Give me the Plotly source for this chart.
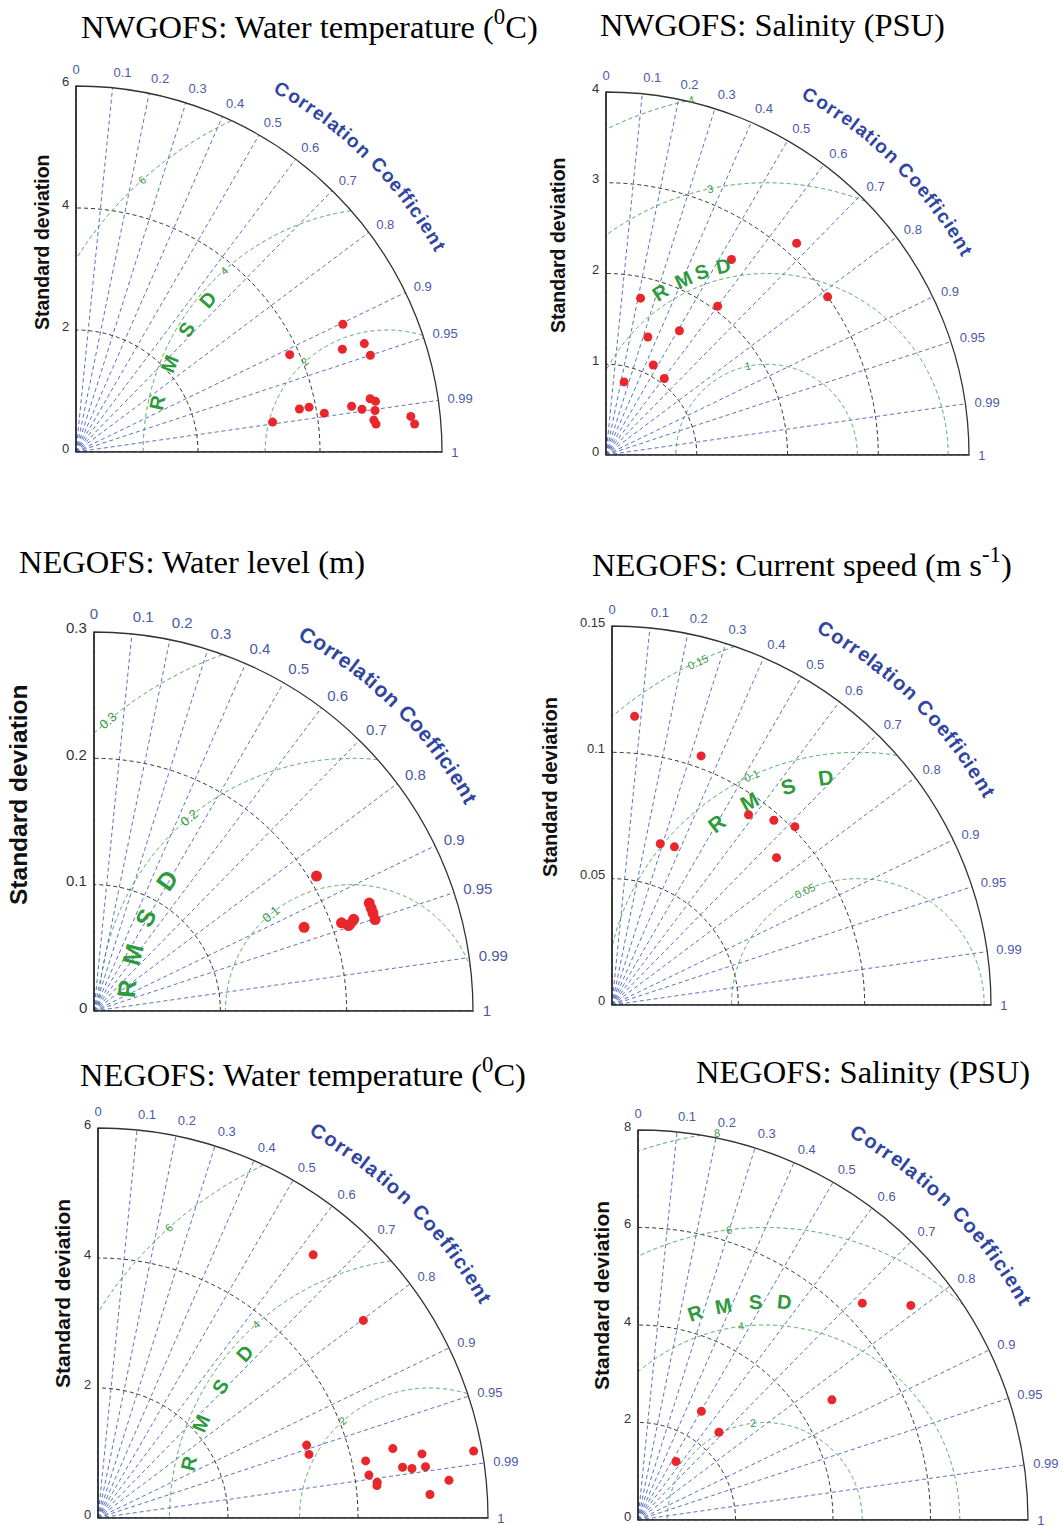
import numpy as np
import plotly.graph_objects as go

W, H = 1062, 1526

# ---------------- data ----------------
corr_ticks = [0, 0.1, 0.2, 0.3, 0.4, 0.5, 0.6, 0.7, 0.8, 0.9, 0.95, 0.99, 1]
corr_tick_text = ["0", "0.1", "0.2", "0.3", "0.4", "0.5", "0.6", "0.7", "0.8", "0.9", "0.95", "0.99", "1"]

titles = [
    "NWGOFS: Water temperature (<sup>0</sup>C)",
    "NWGOFS: Salinity (PSU)",
    "NEGOFS: Water level (m)",
    "NEGOFS: Current speed (m s<sup>-1</sup>)",
    "NEGOFS: Water temperature (<sup>0</sup>C)",
    "NEGOFS: Salinity (PSU)",
]

# NWGOFS water temperature
nwt_std = [4.85, 5.05, 4.68, 5.08, 3.85, 4.90, 4.98, 4.58, 4.74, 4.95, 3.89, 3.73, 4.12, 4.91, 4.94, 3.26, 5.52, 5.57]
nwt_corr = [0.902, 0.936, 0.933, 0.950, 0.910, 0.984, 0.986, 0.9865, 0.989, 0.9905, 0.982, 0.982, 0.988, 0.9943, 0.9957, 0.9886, 0.9944, 0.9966]
# NWGOFS salinity
nws_std = [1.77, 2.56, 3.14, 3.00, 2.05, 1.59, 1.38, 1.12, 1.06, 0.83]
nws_corr = [0.215, 0.540, 0.669, 0.814, 0.600, 0.509, 0.334, 0.465, 0.606, 0.240]
# NEGOFS water level
nel_std = [0.206, 0.179, 0.208, 0.2125, 0.218, 0.214, 0.234, 0.234, 0.234, 0.234]
nel_corr = [0.855, 0.929, 0.942, 0.948, 0.943, 0.947, 0.931, 0.9375, 0.9436, 0.951]
# NEGOFS current speed
nec_std = [0.1146, 0.1047, 0.0927, 0.0972, 0.1011, 0.0666, 0.0673, 0.0874]
nec_corr = [0.078, 0.337, 0.583, 0.659, 0.716, 0.287, 0.367, 0.745]
# NEGOFS water temperature
net_std = [5.23, 5.09, 3.40, 3.39, 4.21, 4.22, 4.33, 4.32, 4.66, 4.75, 4.89, 5.08, 5.10, 5.43, 5.12, 5.87]
net_corr = [0.633, 0.802, 0.944, 0.9575, 0.978, 0.9877, 0.9919, 0.9933, 0.9734, 0.9864, 0.9878, 0.981, 0.988, 0.9943, 0.9975, 0.9845]
# NEGOFS salinity
nes_std = [6.40, 7.12, 4.68, 2.58, 2.45, 1.43]
nes_corr = [0.719, 0.786, 0.850, 0.504, 0.678, 0.545]

# reference (observed) std and RMSD contour levels
ref_std = [5.1, 1.77, 0.204, 0.0973, 5.1, 2.6]
rmsd_levels = [[2, 4, 6], [1, 2, 3, 4], [0.1, 0.2, 0.3], [0.05, 0.1, 0.15], [2, 4, 6], [2, 4, 6, 8]]
rmsd_label_levels = [[2, 4, 6], [1, 3, 4], [0.1, 0.2, 0.3], [0.05, 0.1, 0.15], [2, 4, 6], [2, 4, 6, 8]]
rmsd_label_text = [["2", "4", "6"], ["1", "3", "4"], ["0.1", "0.2", "0.3"], ["0.05", "0.1", "0.15"],
                   ["2", "4", "6"], ["2", "4", "6", "8"]]
std_ticks = [[0, 2, 4, 6], [0, 1, 2, 3, 4], [0, 0.1, 0.2, 0.3], [0, 0.05, 0.1, 0.15], [0, 2, 4, 6], [0, 2, 4, 6, 8]]
std_tick_text = [["0", "2", "4", "6"], ["0", "1", "2", "3", "4"], ["0", "0.1", "0.2", "0.3"],
                 ["0", "0.05", "0.1", "0.15"], ["0", "2", "4", "6"], ["0", "2", "4", "6", "8"]]

series_std = [nwt_std, nws_std, nel_std, nec_std, net_std, nes_std]
series_corr = [nwt_corr, nws_corr, nel_corr, nec_corr, net_corr, nes_corr]

# ---------------- layout geometry (pixels) ----------------
panels = [
    dict(ox=76, oy=452, R=366, title=(309, 25), ylab=(42, 242, 19.5), tick=12, cc=19, rm_r=3.85,
         rm_phi=[167.8, 157.9, 148.5, 139.8], rm_fs=20, lab_phi=132, msize=9),
    dict(ox=606, oy=455, R=363, title=(772, 25), ylab=(558, 245, 19.5), tick=12, cc=19, rm_r=2.14,
         rm_phi=[123, 115.4, 109.5, 102.9], rm_fs=20, lab_phi=102, msize=9),
    dict(ox=94, oy=1011, R=379, title=(192, 562), ylab=(18, 795, 24.5), tick=14, cc=21, rm_r=0.179,
         rm_phi=[174.4, 165.4, 155.5, 144.7], rm_fs=25, lab_phi=130, msize=11),
    dict(ox=612, oy=1005, R=379, title=(802, 562), ylab=(550, 787, 20), tick=12, cc=20, rm_r=0.091,
         rm_phi=[127.9, 118, 107.8, 98], rm_fs=21, lab_phi=115, msize=9),
    dict(ox=98, oy=1518, R=390, title=(303, 1072), ylab=(62, 1294, 21), tick=12, cc=20, rm_r=3.8,
         rm_phi=[167.1, 157.5, 148, 138.5], rm_fs=20, lab_phi=132, msize=9),
    dict(ox=638, oy=1520, R=390, title=(863, 1072), ylab=(601, 1296, 21), tick=12, cc=20, rm_r=4.48,
         rm_phi=[108.6, 100.9, 92.5, 84.9], rm_fs=20, lab_phi=97, msize=9),
]

BLUE_GRID = "#5a72c4"
BLUE_TXT = "#4a5aa8"
BLUE_CC = "#2f45a0"
GREEN = "#3c9a4a"
RED = "#e8262b"

cw = {"C": .722, "o": .611, "r": .389, "e": .556, "l": .278, "a": .556, "t": .333, "i": .278,
      "n": .611, " ": .278, "f": .333, "c": .556}

fig = go.Figure()
annotations = []
theta_ticks = list(np.degrees(np.arccos(corr_ticks)))


def to_paper(px, py):
    return px / W, 1 - py / H


for i, p in enumerate(panels):
    sub = "polar" if i == 0 else f"polar{i + 1}"
    smax = std_ticks[i][-1]
    s0 = ref_std[i]
    ox, oy, R = p["ox"], p["oy"], p["R"]

    def std_to_px(xs, ys):
        return ox + R * xs / smax, oy - R * ys / smax

    # RMSD arcs
    for lev in rmsd_levels[i]:
        t = np.linspace(0, np.pi, 1441)
        x = s0 + lev * np.cos(t)
        y = lev * np.sin(t)
        r = np.hypot(x, y)
        m = (r <= smax) & (x >= 0)
        fig.add_trace(go.Scatterpolar(r=r[m], theta=np.degrees(np.arctan2(y[m], x[m])), mode="lines",
                                      line=dict(color=GREEN, width=1, dash="4px,3px"),
                                      subplot=sub, hoverinfo="skip", showlegend=False))
    # bottom edge (corr = 1 axis)
    fig.add_trace(go.Scatterpolar(r=[0, smax], theta=[0, 0], mode="lines",
                                  line=dict(color="#333", width=1.3), subplot=sub,
                                  hoverinfo="skip", showlegend=False))
    # data points
    fig.add_trace(go.Scatterpolar(r=series_std[i], theta=np.degrees(np.arccos(series_corr[i])),
                                  mode="markers", marker=dict(color=RED, size=p["msize"]),
                                  subplot=sub, showlegend=False))

    dom_x = [ox / W, (ox + R) / W]
    dom_y = [(H - oy) / H, (H - oy + R) / H]
    fig.update_layout(**{sub: dict(
        domain=dict(x=dom_x, y=dom_y),
        sector=[0, 90],
        bgcolor="white",
        angularaxis=dict(direction="counterclockwise", rotation=0, tickmode="array",
                         tickvals=theta_ticks, ticktext=corr_tick_text,
                         showline=True, linecolor="#333", linewidth=1.3,
                         showgrid=True, gridcolor=BLUE_GRID, griddash="4px,3px", gridwidth=1,
                         ticks="outside", ticklen=6, tickcolor="rgba(0,0,0,0)",
                         tickfont=dict(color=BLUE_TXT, size=p["tick"] + 1, family="Liberation Sans")),
        radialaxis=dict(range=[0, smax], angle=90, tickmode="array",
                        tickvals=std_ticks[i], showticklabels=False,
                        showline=True, linecolor="#222", linewidth=1.3,
                        showgrid=True, gridcolor="#333", griddash="4px,3px", gridwidth=1,
                        ticks=""),
    )})

    # radial (std) tick labels on the left of the vertical axis
    for v, lab in zip(std_ticks[i], std_tick_text[i]):
        px, py = std_to_px(0, v)
        ax_, ay_ = to_paper(px - 5, py - 4)
        annotations.append(dict(text=lab, x=ax_, y=ay_, xref="paper", yref="paper", showarrow=False,
                                xanchor="right", yanchor="middle",
                                font=dict(family="Liberation Sans", size=p["tick"] + 1, color="#333")))

    # title
    tx, ty = to_paper(*p["title"])
    annotations.append(dict(text=titles[i], x=tx, y=ty, xref="paper", yref="paper", showarrow=False,
                            xanchor="center", yanchor="middle",
                            font=dict(family="Liberation Serif", size=32.5, color="black")))
    # y label
    lx, ly = to_paper(p["ylab"][0], p["ylab"][1])
    annotations.append(dict(text="Standard deviation", x=lx, y=ly, xref="paper", yref="paper",
                            showarrow=False, textangle=-90, xanchor="center", yanchor="middle",
                            font=dict(family="Liberation Sans", size=p["ylab"][2], color="#111",
                                      weight="bold")))
    # Correlation Coefficient along arc
    text = "Correlation Coefficient"
    fs = p["cc"]
    widths = [cw[c] * fs for c in text]
    r_px = 1.14 * R
    a0, a1 = 61.5, 29.0
    scale = np.radians(a0 - a1) * r_px / sum(widths)
    cum = 0
    for c, w in zip(text, widths):
        if c != " ":
            center = cum + w * scale / 2
            phi = a0 - np.degrees(center / r_px)
            px = ox + r_px * np.cos(np.radians(phi))
            py = oy - r_px * np.sin(np.radians(phi))
            ax_, ay_ = to_paper(px, py)
            annotations.append(dict(text=c, x=ax_, y=ay_, xref="paper", yref="paper", showarrow=False,
                                    textangle=90 - phi, xanchor="center", yanchor="middle",
                                    font=dict(family="Liberation Sans", size=fs, color=BLUE_CC,
                                              weight="bold")))
        cum += w * scale
    # RMSD letters
    for c, phi in zip("RMSD", p["rm_phi"]):
        xs = s0 + p["rm_r"] * np.cos(np.radians(phi))
        ys = p["rm_r"] * np.sin(np.radians(phi))
        ax_, ay_ = to_paper(*std_to_px(xs, ys))
        annotations.append(dict(text=c, x=ax_, y=ay_, xref="paper", yref="paper", showarrow=False,
                                textangle=90 - phi, xanchor="center", yanchor="middle",
                                font=dict(family="Liberation Sans", size=p["rm_fs"], color="#2e9a3e",
                                          weight="bold")))
    # RMSD level labels
    for lev, lab in zip(rmsd_label_levels[i], rmsd_label_text[i]):
        phi = p["lab_phi"]
        xs = s0 + lev * np.cos(np.radians(phi))
        ys = lev * np.sin(np.radians(phi))
        ax_, ay_ = to_paper(*std_to_px(xs, ys))
        annotations.append(dict(text=lab, x=ax_, y=ay_, xref="paper", yref="paper", showarrow=False,
                                textangle=90 - phi, xanchor="center", yanchor="middle",
                                font=dict(family="Liberation Sans", size=p["tick"] - 1, color=GREEN)))

fig.update_layout(width=W, height=H, autosize=False, margin=dict(l=0, r=0, t=0, b=0),
                  paper_bgcolor="white", plot_bgcolor="white", showlegend=False,
                  annotations=annotations)
fig.write_html("out.html", config={"displayModeBar": False},
               post_script="document.body.style.margin='0px';")
